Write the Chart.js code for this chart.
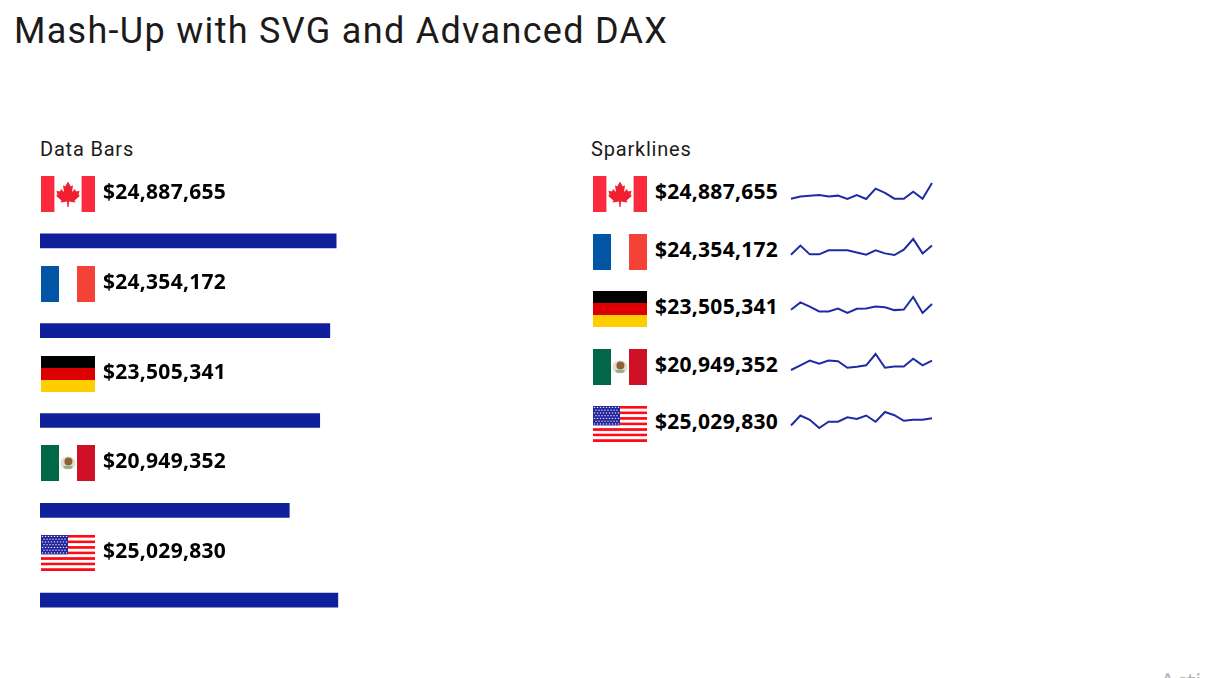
<!DOCTYPE html>
<html lang="en">
<head>
<meta charset="utf-8">
<title>Mash-Up with SVG and Advanced DAX</title>
<script src="https://cdn.jsdelivr.net/npm/chart.js@4"></script>
<style>
html,body{margin:0;padding:0;width:1211px;height:678px;overflow:hidden;background:#fff}
#page{position:relative;width:1211px;height:678px;overflow:hidden}
.t{position:absolute;white-space:nowrap;line-height:1}
#title{left:14px;top:10px;font:400 36px Roboto,sans-serif;letter-spacing:1.3px;color:#1c1b1a}
.head{font:400 20px Roboto,sans-serif;color:#1c1b1a;letter-spacing:.8px;top:137px}
.val{font:700 21px "Open Sans",sans-serif;color:#000;letter-spacing:.27px}
#wm{left:1160px;top:664px;font:400 24px "Open Sans",sans-serif;color:#b5b5b5}
svg.flag{position:absolute;width:54px;height:36px;display:block}
canvas{position:absolute}
</style>
</head>
<body>
<div id="page">
  <div class="t" id="title">Mash-Up with SVG and Advanced DAX</div>
  <div class="t head" style="left:40px">Data Bars</div>
  <div class="t head" style="left:591px">Sparklines</div>
  <canvas id="bars" width="357" height="449" style="left:40px;top:196px;width:357px;height:449px"></canvas>
  <div class="t" id="wm">Acti</div>
</div>
<script>
const countries = ["Canada", "France", "Germany", "Mexico", "United States"];
const sales = [24887655, 24354172, 23505341, 20949352, 25029830];
const salesLabels = ["$24,887,655", "$24,354,172", "$23,505,341", "$20,949,352", "$25,029,830"];
const periods = ["1","2","3","4","5","6","7","8","9","10","11","12","13","14","15","16"];
const sparkCanada  = [2,15,21,25,15,21,0,25,0,65,38,2,2,46,2,100];
const sparkFrance  = [2,59,4,4,29,29,29,16,2,29,10,0,33,100,10,59];
const sparkGermany = [20,66,40,10,10,28,0,26,28,40,36,18,22,100,0,56];
const sparkMexico  = [0,29,59,39,59,55,14,20,29,100,14,22,22,71,29,59];
const sparkUSA     = [16,78,51,0,39,39,67,57,78,39,100,80,45,51,51,61];
const sparks = [sparkCanada, sparkFrance, sparkGermany, sparkMexico, sparkUSA];

const BAR = "#10209a", LINE = "#1c2ca4";
const page = document.getElementById("page");

const leafHalf = [[0,5.5],[2.8,10.5],[5,9.3],[4,16],[7,13],[8,15.5],[11.5,14.8],[10.5,19],[12,19.8],[6.5,24.5],[7.5,26.5],[1,25.5],[.6,31]];
const leaf = leafHalf.map(p => (27+p[0])+","+p[1]).concat(leafHalf.slice().reverse().map(p => (27-p[0])+","+p[1])).join(" ");
function usFlag(){
  let s = "";
  for (let i=0;i<13;i++) s += `<rect x="0" y="${i*36/13}" width="54" height="${36/13+.05}" fill="${i%2?'#fff':'#ff0a14'}"/>`;
  s += `<rect width="27" height="19.4" fill="#23269a"/>`;
  for (let r=0;r<7;r++) for (let c=0;c<(r%2?8:9);c++)
    s += `<circle cx="${(r%2?3:1.5)+c*3}" cy="${1.4+r*2.75}" r=".72" fill="#e6e8fa"/>`;
  return s;
}
const flags = {
  Canada: `<rect width="54" height="36" fill="#fff"/><rect width="13.4" height="36" fill="#fb2a3c"/><rect x="40.6" width="13.4" height="36" fill="#fb2a3c"/><polygon points="${leaf}" fill="#f01f2e"/>`,
  France: `<rect width="18" height="36" fill="#0255a5"/><rect x="36" width="18" height="36" fill="#f44336"/>`,
  Germany: `<rect width="54" height="12" fill="#000"/><rect y="12" width="54" height="12" fill="#dd0000"/><rect y="24" width="54" height="12" fill="#ffce00"/>`,
  Mexico: `<rect width="18" height="36" fill="#006847"/><rect x="36" width="18" height="36" fill="#ce1126"/><ellipse cx="27" cy="18" rx="7.6" ry="6.6" fill="#e3decb"/><ellipse cx="27.4" cy="16.6" rx="4" ry="4" fill="#8f6238"/><ellipse cx="27" cy="22.2" rx="4.6" ry="1.6" fill="#93ab8c"/>`,
  "United States": usFlag()
};
function addRow(i, flagX, flagY, textX, textCenterY){
  const w = document.createElement("div");
  w.innerHTML = `<svg class="flag" viewBox="0 0 54 36" style="left:${flagX}px;top:${flagY}px" role="img" aria-label="${countries[i]}">${flags[countries[i]]}</svg>`;
  page.appendChild(w.firstChild);
  const t = document.createElement("div");
  t.className = "t val";
  t.textContent = salesLabels[i];
  t.style.left = textX+"px";
  t.style.top = (textCenterY-15)+"px";
  page.appendChild(t);
}
const leftFlagY = [176,265.7,355.5,445.4,535.4], leftTextY = [192,282,371.5,461,551];
const rightFlagY = [176,234,291,349,406], rightTextY = [192,250,307,365,422];
const sparkTop = [182.7,239.3,296.7,354.3,412];
countries.forEach((c,i)=>{
  addRow(i,41,leftFlagY[i],103,leftTextY[i]);
  addRow(i,593,rightFlagY[i],655,rightTextY[i]);
});

new Chart(document.getElementById("bars"),{
  type:"bar",
  data:{labels:countries,datasets:[{data:sales,backgroundColor:BAR,borderWidth:0,barThickness:14}]},
  options:{
    indexAxis:"y",responsive:false,animation:false,
    layout:{padding:0},
    plugins:{legend:{display:false},tooltip:{enabled:false},title:{display:false}},
    scales:{
      x:{display:false,min:0,max:30000000},
      y:{display:false}
    }
  }
});

const PAD = 6, SW = 141, SH = 16;
countries.forEach((c,i)=>{
  const cv = document.createElement("canvas");
  cv.width = SW+2*PAD; cv.height = SH+2*PAD;
  cv.style.cssText = `left:${791-PAD}px;top:${sparkTop[i]-PAD}px;width:${SW+2*PAD}px;height:${SH+2*PAD}px`;
  page.appendChild(cv);
  new Chart(cv,{
    type:"line",
    data:{labels:periods,datasets:[{data:sparks[i],borderColor:LINE,borderWidth:2,pointRadius:0,tension:0,fill:false,clip:false}]},
    options:{
      responsive:false,animation:false,
      layout:{padding:PAD},
      plugins:{legend:{display:false},tooltip:{enabled:false}},
      scales:{x:{display:false,offset:false},y:{display:false,min:0,max:100}}
    }
  });
});
</script>
</body>
</html>
